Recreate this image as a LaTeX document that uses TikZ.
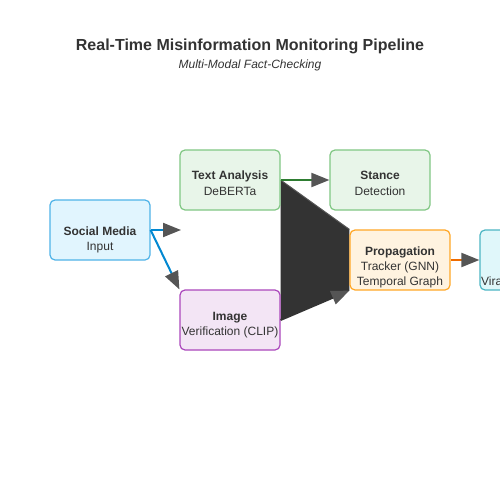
\documentclass[tikz,border=0pt]{standalone}
\usepackage{fontspec}
\setmainfont{Liberation Sans}
\usetikzlibrary{arrows.meta}
\definecolor{txt}{HTML}{333333}
\definecolor{head}{HTML}{555555}
\definecolor{dark}{HTML}{333333}
\definecolor{bluefill}{HTML}{E1F5FE}
\definecolor{blueedge}{HTML}{4FB3E8}
\definecolor{blueline}{HTML}{0288D1}
\definecolor{greenfill}{HTML}{E8F5E9}
\definecolor{greenedge}{HTML}{81C784}
\definecolor{greenline}{HTML}{2E7D32}
\definecolor{purplefill}{HTML}{F3E5F5}
\definecolor{purpleedge}{HTML}{AB47BC}
\definecolor{orangefill}{HTML}{FFF3E0}
\definecolor{orangeedge}{HTML}{FFA726}
\definecolor{orangeline}{HTML}{EF6C00}
\definecolor{tealfill}{HTML}{E0F7FA}
\definecolor{tealedge}{HTML}{4DB6C4}
\begin{document}
\begin{tikzpicture}[x=1pt,y=-1pt,
  box/.style={draw, rounded corners=5pt, line width=1.2pt, minimum width=100pt, minimum height=60pt, inner sep=0pt, anchor=center},
  lbl/.style={font=\fontsize{12}{14}\selectfont, text=txt, anchor=base, inner sep=0pt},
  blbl/.style={font=\fontsize{12}{14}\selectfont\bfseries, text=txt, anchor=base, inner sep=0pt},
  tip/.style={-{Triangle[length=18pt,width=14pt,color=head,fill=head]}},
  conn/.style={line width=2pt, tip}]
\useasboundingbox (0,0) rectangle (500,500);
\clip (0,0) rectangle (500,500);
\fill[white] (0,0) rectangle (500,500);

% titles
\node[font=\fontsize{16}{19}\selectfont\bfseries, text=txt, anchor=base, inner sep=0pt] (title) at (250,51) {Real-Time Misinformation Monitoring Pipeline};
\node[font=\fontsize{12}{14}\selectfont\itshape, text=txt, anchor=base, inner sep=0pt] (subtitle) at (250,69) {Multi-Modal Fact-Checking};

% box positions
\coordinate (psoc) at (100,230);
\coordinate (ptxt) at (230,180);
\coordinate (pst) at (380,180);
\coordinate (pimg) at (230,320);
\coordinate (pprop) at (400,260);
\coordinate (pvir) at (530,260);

% invisible helper boxes for anchors
\node[box, draw=none] (txtb) at (ptxt) {};
\node[box, draw=none] (imgb) at (pimg) {};
\node[box, draw=none] (propb) at (pprop) {};

% dark filled region
\fill[dark] (txtb.east) -- (propb.north west) -- (propb.south west) -- (imgb.east) -- cycle;
\draw[head, line width=1pt] (txtb.east) -- (propb.north west);

% boxes
\node[box, fill=bluefill, draw=blueedge] (soc) at (psoc) {};
\node[box, fill=greenfill, draw=greenedge] (ta) at (ptxt) {};
\node[box, fill=greenfill, draw=greenedge] (st) at (pst) {};
\node[box, fill=purplefill, draw=purpleedge] (img) at (pimg) {};
\node[box, fill=orangefill, draw=orangeedge] (prop) at (pprop) {};
\node[box, fill=tealfill, draw=tealedge] (vir) at (pvir) {};

% connectors
\coordinate (f1) at (181,230);
\draw[conn, blueline] (soc.east) -- (f1);
\draw[conn, blueline] (soc.east) -- (img.north west);
\draw[conn, greenline] (ta.east) -- (st.west);
\draw[conn, dark] (img.east) -- (prop.south west);
\draw[conn, orangeline] (prop.east) -- (vir.west);

% labels
\node[blbl] (l1a) at (100,235) {Social Media};
\node[lbl] (l1b) at (100,250) {Input};
\node[blbl] (l2a) at (230,179.5) {Text Analysis};
\node[lbl] (l2b) at (230,195) {DeBERTa};
\node[blbl] (l3a) at (380,179.5) {Stance};
\node[lbl] (l3b) at (380,195) {Detection};
\node[blbl] (l4a) at (230,320) {Image};
\node[lbl] (l4b) at (230,335) {Verification (CLIP)};
\node[blbl] (l5a) at (400,255) {Propagation};
\node[lbl] (l5b) at (400,270) {Tracker (GNN)};
\node[lbl] (l5c) at (400,285) {Temporal Graph};
\node[lbl, anchor=base west] (l6) at (481,285) {Vira};
\end{tikzpicture}
\end{document}
